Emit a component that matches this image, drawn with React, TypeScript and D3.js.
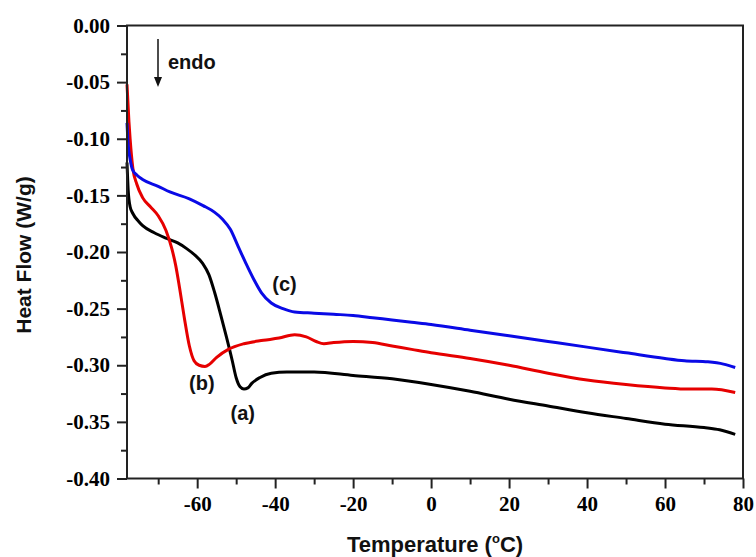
import React, { useEffect, useRef } from "react";
import * as d3 from "d3";

// DSC curves: [temperature (°C), heat flow (W/g)]
const curveA: [number, number][] = [
  [-78, -0.121], [-77.7, -0.145], [-77.2, -0.160], [-76.5, -0.166], [-75, -0.173],
  [-73.9, -0.177], [-71, -0.183], [-67.8, -0.188], [-65, -0.192], [-62.7, -0.197],
  [-60.5, -0.203], [-58.6, -0.210], [-57, -0.220], [-55.5, -0.236], [-54, -0.255],
  [-52.5, -0.275], [-51, -0.296], [-50, -0.311], [-49, -0.319], [-48, -0.321],
  [-47, -0.320], [-46, -0.316], [-44, -0.311], [-41, -0.307], [-37, -0.306],
  [-30, -0.306], [-20, -0.309], [-10, -0.312], [0, -0.317], [10, -0.323],
  [20, -0.330], [30, -0.336], [40, -0.342], [50, -0.347], [60, -0.352],
  [70, -0.355], [74, -0.357], [78, -0.361],
];
const curveB: [number, number][] = [
  [-78, -0.052], [-77.5, -0.085], [-77.2, -0.100], [-76.5, -0.126], [-75.5, -0.140],
  [-74, -0.152], [-72, -0.160], [-70, -0.168], [-68, -0.181], [-66.5, -0.197],
  [-65.5, -0.212], [-64.5, -0.232], [-63.3, -0.258], [-62, -0.283], [-60.8, -0.296],
  [-59.5, -0.300], [-58, -0.301], [-56.8, -0.299], [-55, -0.293], [-52, -0.286],
  [-48, -0.281], [-43, -0.278], [-39, -0.276], [-35, -0.273], [-32, -0.275],
  [-29.5, -0.279], [-27.5, -0.281], [-25, -0.280], [-20, -0.279], [-15, -0.280],
  [-10, -0.283], [-5, -0.286], [0, -0.289], [10, -0.294], [20, -0.300],
  [30, -0.307], [40, -0.313], [50, -0.317], [60, -0.320], [66, -0.321],
  [72, -0.321], [78, -0.324],
];
const curveC: [number, number][] = [
  [-78, -0.086], [-77.7, -0.105], [-77.2, -0.118], [-76.5, -0.128], [-75.5, -0.132],
  [-74, -0.136], [-70, -0.142], [-67, -0.147], [-62, -0.153], [-58.5, -0.159],
  [-55.5, -0.165], [-53.5, -0.171], [-51.5, -0.180], [-49.5, -0.195], [-47.5, -0.210],
  [-45.5, -0.224], [-43.5, -0.236], [-41, -0.245], [-38, -0.250], [-35, -0.253],
  [-30, -0.254], [-25, -0.255], [-20, -0.256], [-15, -0.258], [-10, -0.260],
  [-5, -0.262], [0, -0.264], [10, -0.269], [20, -0.274], [30, -0.279],
  [40, -0.284], [50, -0.289], [60, -0.294], [65, -0.296], [71, -0.297],
  [75, -0.299], [78, -0.302],
];

const xTicks = [-60, -40, -20, 0, 20, 40, 60, 80];
const xMinorTicks = [-70, -50, -30, -10, 10, 30, 50, 70];
const yTicks = [0, -0.05, -0.1, -0.15, -0.2, -0.25, -0.3, -0.35, -0.4];
const yMinorTicks = [-0.025, -0.075, -0.125, -0.175, -0.225, -0.275, -0.325, -0.375];

const series = [
  { name: "(a)", data: curveA, color: "#000000", label: [-48.3, -0.342] },
  { name: "(b)", data: curveB, color: "#e60000", label: [-58.8, -0.316] },
  { name: "(c)", data: curveC, color: "#0a0ae6", label: [-37.6, -0.228] },
];

const W = 756;
const H = 557;
const left = 127, right = 743, top = 25.5, bottom = 478.5;
const serif = "'Liberation Serif', 'Times New Roman', Times, 'DejaVu Serif', serif";
const sans = "'Liberation Sans', Arial, sans-serif";

const App = () => {
  const xAxisRef = useRef<SVGGElement>(null);
  const yAxisRef = useRef<SVGGElement>(null);

  const x = d3.scaleLinear().domain([-78, 80]).range([left, right]);
  const y = d3.scaleLinear().domain([0, -0.4]).range([top, bottom]);

  const line = d3
    .line<[number, number]>()
    .x((d) => x(d[0]))
    .y((d) => y(d[1]))
    .curve(d3.curveMonotoneX);

  useEffect(() => {
    const gx = d3.select(xAxisRef.current);
    gx.selectAll("*").remove();
    gx.append("g").call(
      d3.axisBottom(x).tickValues(xMinorTicks).tickSize(6).tickSizeOuter(0).tickFormat(() => "")
    );
    gx.append("g").call(
      d3.axisBottom(x).tickValues(xTicks).tickSize(10).tickSizeOuter(0).tickPadding(8)
        .tickFormat((d) => String(d))
    );
    gx.selectAll("path.domain").remove();

    const gy = d3.select(yAxisRef.current);
    gy.selectAll("*").remove();
    gy.append("g").call(
      d3.axisLeft(y).tickValues(yMinorTicks).tickSize(6).tickSizeOuter(0).tickFormat(() => "")
    );
    gy.append("g").call(
      d3.axisLeft(y).tickValues(yTicks).tickSize(10).tickSizeOuter(0).tickPadding(7)
        .tickFormat((d) => (d as number).toFixed(2))
    );
    gy.selectAll("path.domain").remove();

    [gx, gy].forEach((g) => {
      g.selectAll("g").attr("font-family", null).attr("font-size", null);
      g.selectAll("line").attr("stroke", "#222").attr("stroke-width", 2);
      g.selectAll("text")
        .attr("fill", "#000")
        .attr("font-family", serif)
        .attr("font-size", 21)
        .attr("font-weight", "bold");
    });
  }, []);

  return (
    <svg width={W} height={H} style={{ position: "absolute", left: 0, top: 0, background: "#fff" }}>
      {series.map((s) => (
        <path key={s.name} d={line(s.data) || ""} fill="none" stroke={s.color} strokeWidth={3} />
      ))}
      <g ref={xAxisRef} transform={`translate(0,${bottom})`} />
      <g ref={yAxisRef} transform={`translate(${left},0)`} />
      <rect x={left} y={top} width={right - left} height={bottom - top} fill="none" stroke="#222" strokeWidth={2} />

      {series.map((s) => (
        <text
          key={s.name + "lbl"}
          x={x(s.label[0])}
          y={y(s.label[1])}
          dy="0.35em"
          textAnchor="middle"
          fontFamily={sans}
          fontWeight="bold"
          fontSize={20}
          fill="#111"
        >
          {s.name}
        </text>
      ))}

      <line x1={158} x2={158} y1={39} y2={78} stroke="#111" strokeWidth={1.5} />
      <path d="M154,77 L162,77 L158,87 Z" fill="#111" />
      <text x={168} y={69} fontFamily={sans} fontWeight="bold" fontSize={20} fill="#111">
        endo
      </text>

      <text
        x={435}
        y={552}
        textAnchor="middle"
        fontFamily={sans}
        fontWeight="bold"
        fontSize={22}
        fill="#111"
      >
        Temperature (
        <tspan fontSize={13} dy={-9}>o</tspan>
        <tspan dy={9}>C)</tspan>
      </text>
      <text
        transform={`translate(31,255) rotate(-90)`}
        textAnchor="middle"
        fontFamily={sans}
        fontWeight="bold"
        fontSize={21}
        fill="#111"
      >
        Heat Flow (W/g)
      </text>
    </svg>
  );
};

export default App;
